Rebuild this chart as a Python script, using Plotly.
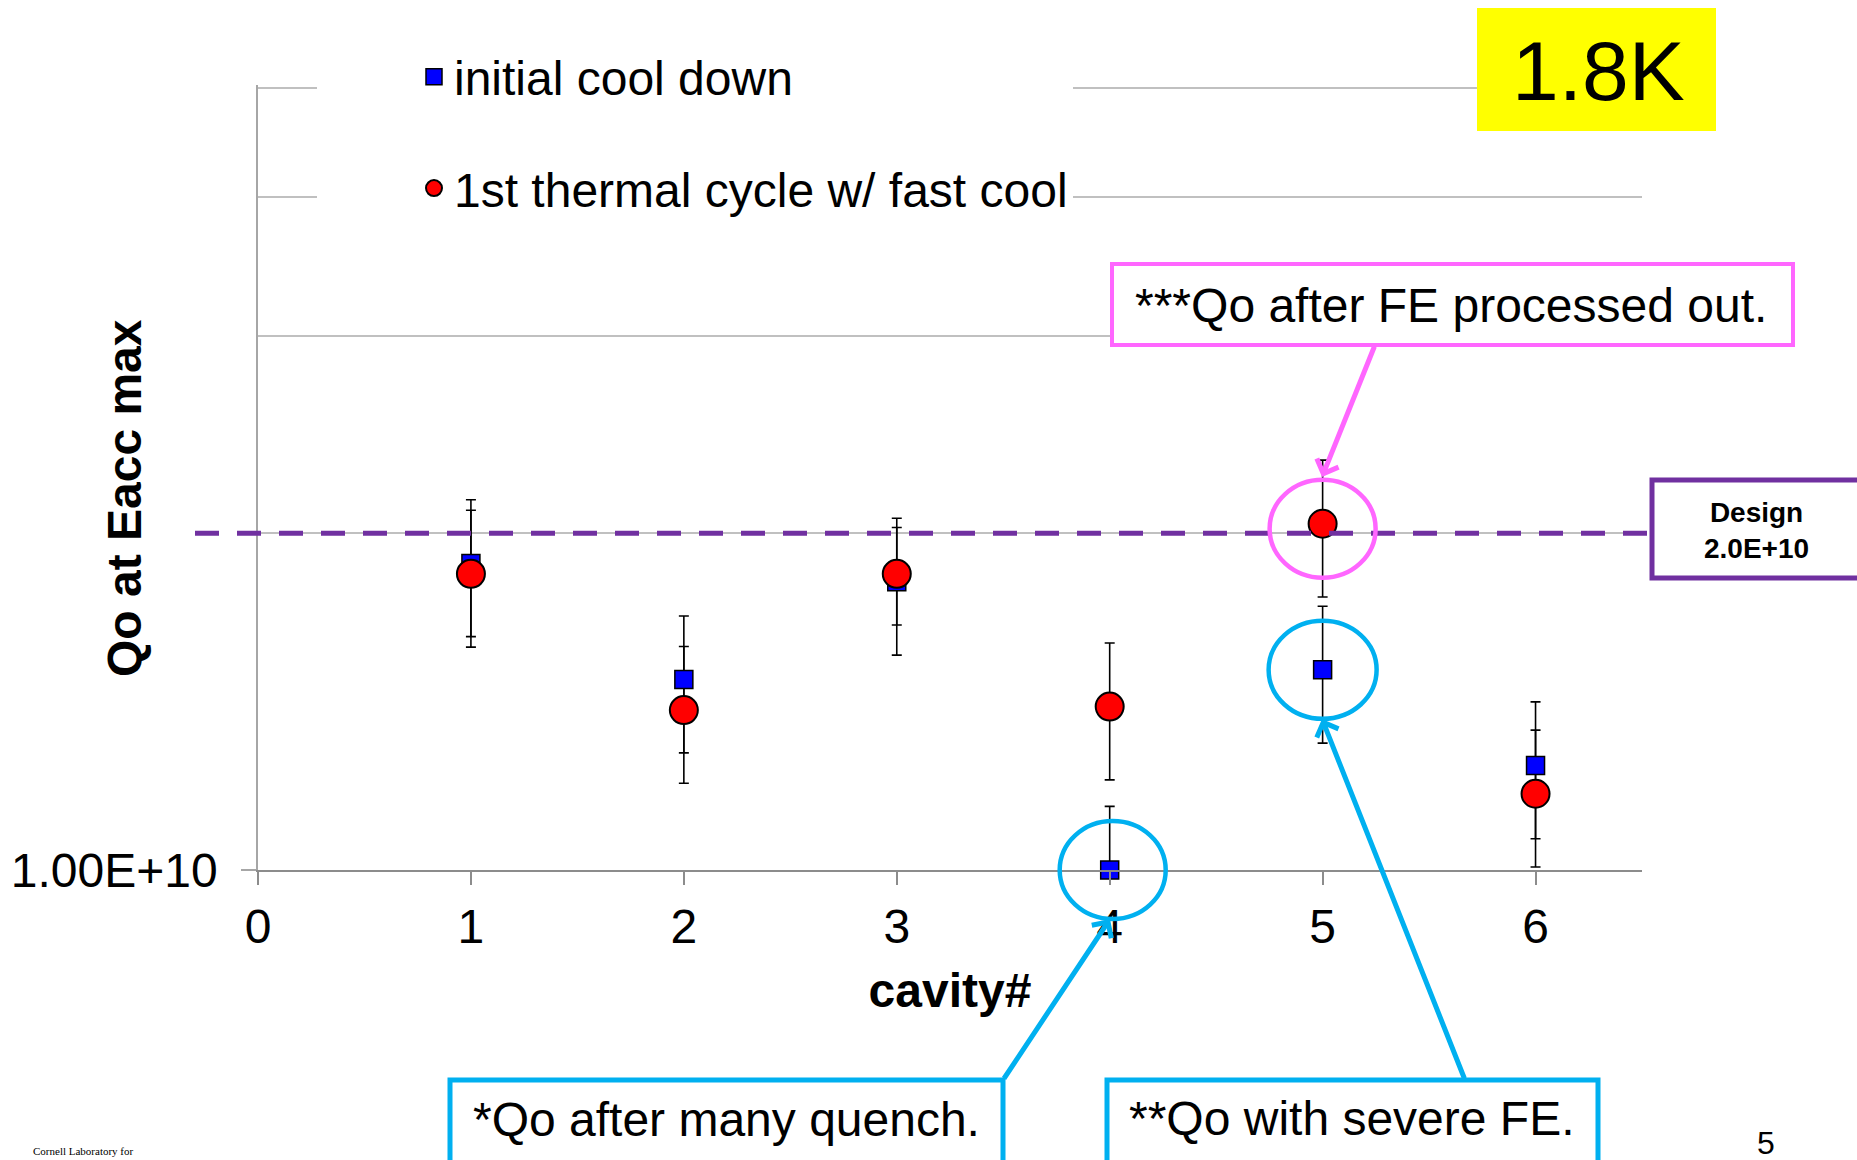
import math
import plotly.graph_objects as go

# ---------------- data ----------------
cavity = [1, 2, 3, 4, 5, 6]
q_initial = [1.88e10, 1.48e10, 1.81e10, 1.00e10, 1.51e10, 1.24e10]
q_thermal = [1.84e10, 1.39e10, 1.84e10, 1.40e10, 2.04e10, 1.17e10]
err_pct_initial = [14, 14, 14, 14, 14, 14]
err_pct_thermal = [14, 14, 10, 14, 14, 14]
design_q = 2.0e10
x_ticks = [0, 1, 2, 3, 4, 5, 6]
x_range = [0, 6.5]
y_grid = [1.0e10, 2.0e10, 3.0e10, 4.0e10, 5.0e10]
y_grid_text = ["1.00E+10", "", "", "", ""]
y_labelled = [1.0e10]
name_initial = "initial cool down"
name_thermal = "1st thermal cycle w/ fast cool"

# ---------------- geometry ----------------
W, H = 1857, 1160
L, R, T, B = 258, 215, 85, 290
PW, PH = W - L - R, H - T - B
Y_LO, Y_HI = math.log10(y_grid[0]), math.log10(y_grid[-1]) + 0.003


def px2x(p):
    return (p - L) / PW


def py2y(p):
    return (H - B - p) / PH


def data2paper(x, v):
    return (x - x_range[0]) / (x_range[1] - x_range[0]), (math.log10(v) - Y_LO) / (Y_HI - Y_LO)


FONT = "Arial, Liberation Sans, sans-serif"
FS = 48
BLUE_C = "#00B0F0"
PINK_C = "#FF66FF"
PURPLE = "#7030A0"
GRID = "#C0C0C0"

err_init = [v * p / 100 for v, p in zip(q_initial, err_pct_initial)]
err_ther = [v * p / 100 for v, p in zip(q_thermal, err_pct_thermal)]

fig = go.Figure()

# error bars (clipped to plot area)
fig.add_trace(go.Scatter(
    x=cavity, y=q_initial, mode="markers", showlegend=False, hoverinfo="skip",
    marker=dict(size=1, opacity=0),
    error_y=dict(type="data", array=err_init, color="black", thickness=1.6, width=5),
    cliponaxis=True))
fig.add_trace(go.Scatter(
    x=cavity, y=q_thermal, mode="markers", showlegend=False, hoverinfo="skip",
    marker=dict(size=1, opacity=0),
    error_y=dict(type="data", array=err_ther, color="black", thickness=1.6, width=5),
    cliponaxis=True))

# markers
fig.add_trace(go.Scatter(
    x=cavity, y=q_initial, mode="markers", name=name_initial, legendgroup="a",
    marker=dict(symbol="square", size=18, color="#0000FF", line=dict(color="black", width=1.5)),
    cliponaxis=False))
fig.add_trace(go.Scatter(
    x=cavity, y=q_thermal, mode="markers", name=name_thermal, legendgroup="b",
    marker=dict(symbol="circle", size=28, color="#FF0000", line=dict(color="black", width=2)),
    cliponaxis=False))

shapes = []
# design dashed line
shapes.append(dict(type="line", xref="paper", yref="y", x0=px2x(195), x1=px2x(1652),
                   y0=design_q, y1=design_q, layer="above",
                   line=dict(color=PURPLE, width=5, dash="24px,18px")))


def ellipse(x, v, color, rx, ry, dx=0, dy=0):
    cx, cy = data2paper(x, v)
    cx += dx / PW
    cy -= dy / PH
    return dict(type="circle", xref="paper", yref="paper",
                x0=cx - rx / PW, x1=cx + rx / PW, y0=cy - ry / PH, y1=cy + ry / PH,
                line=dict(color=color, width=4.5), layer="above")


shapes.append(ellipse(cavity[4], q_thermal[4], PINK_C, 53, 49, dy=5))
shapes.append(ellipse(cavity[4], q_initial[4], BLUE_C, 54, 49))
shapes.append(ellipse(cavity[3], q_initial[3], BLUE_C, 53, 49, dx=3))


def box(x0, y0, x1, y1, color=None, width=0, fill="white"):
    return dict(type="rect", xref="paper", yref="paper",
                x0=px2x(x0), x1=px2x(x1), y0=py2y(y1), y1=py2y(y0),
                line=dict(color=color if color else "rgba(0,0,0,0)", width=width),
                fillcolor=fill, layer="above")


shapes.append(box(1477, 8, 1716, 131, fill="#FFFF00"))
shapes.append(box(1652, 480, 1885, 578, color=PURPLE, width=5))
shapes.append(box(1112, 264, 1793, 345, color=PINK_C, width=4))
shapes.append(box(450, 1080, 1003, 1175, color=BLUE_C, width=5))
shapes.append(box(1107, 1080, 1598, 1175, color=BLUE_C, width=5))

ann = []


def text(s, x, y, size, **kw):
    d = dict(text=s, xref="paper", yref="paper", x=px2x(x), y=py2y(y), showarrow=False,
             font=dict(family=FONT, size=size, color="black"), xanchor="center", yanchor="middle")
    d.update(kw)
    return d


ann.append(text("1.8K", 1598, 71, 84))
ann.append(text("<b>Design</b><br><b>2.0E+10</b>", 1757, 530, 28))
ann.append(text("***Qo after FE processed out.", 1451, 305, FS))
ann.append(text("*Qo after many quench.", 726, 1119, FS))
ann.append(text("**Qo with severe FE.", 1352, 1118, FS))
ann.append(text("<b>Qo at Eacc max</b>", 124, 498, FS, textangle=-90))
ann.append(text("5", 1766, 1143, 32))
ann.append(dict(text="Cornell Laboratory for", xref="paper", yref="paper", x=px2x(31), y=py2y(1151),
                showarrow=False, xanchor="left", yanchor="middle",
                font=dict(family="Liberation Serif, serif", size=11, color="black")))


def arrow(tip, tail, color):
    return dict(text="", xref="paper", yref="paper", x=px2x(tip[0]), y=py2y(tip[1]),
                ax=tail[0] - tip[0], ay=tail[1] - tip[1], showarrow=True,
                arrowhead=4, arrowsize=0.9, arrowwidth=5, arrowcolor=color, standoff=0)


ann.append(arrow((1322, 477), (1375, 345), PINK_C))
ann.append(arrow((1110, 919), (1003, 1080), BLUE_C))
ann.append(arrow((1322, 719), (1465, 1080), BLUE_C))

fig.update_layout(
    width=W, height=H, margin=dict(l=L, r=R, t=T, b=B, autoexpand=False),
    paper_bgcolor="white", plot_bgcolor="white",
    font=dict(family=FONT, size=FS, color="black"),
    shapes=shapes, annotations=ann,
    legend=dict(x=px2x(317), y=py2y(39), xanchor="left", yanchor="top", indentation=97,
                bgcolor="white", borderwidth=0, traceorder="grouped", tracegroupgap=46,
                font=dict(family=FONT, size=FS, color="black")),
    xaxis=dict(range=x_range, tickmode="array", tickvals=x_ticks, ticks="outside",
               ticklen=13, tickwidth=1.5, tickcolor="#8C8C8C", showline=True,
               linecolor="#8C8C8C", linewidth=2, showgrid=False, zeroline=False,
               tickfont=dict(family=FONT, size=FS, color="black"),
               title=dict(text="<b>cavity#</b>", font=dict(family=FONT, size=FS, color="black"),
                          standoff=22)),
    yaxis=dict(type="log", range=[Y_LO, Y_HI],
               tickmode="array", tickvals=y_grid, ticktext=y_grid_text, ticks="",
               showline=True, linecolor="#A6A6A6", linewidth=1.5,
               showgrid=True, gridcolor=GRID, gridwidth=1.5, zeroline=False,
               ticklabelstandoff=29,
               tickfont=dict(family=FONT, size=FS, color="black"),
               minor=dict(tickmode="array", tickvals=y_labelled, showgrid=False,
                          ticks="outside", ticklen=15, tickwidth=1.5, tickcolor="#A6A6A6")),
)

fig.write_html("out.html", config={"displayModeBar": False},
               post_script="document.body.style.margin='0';")
